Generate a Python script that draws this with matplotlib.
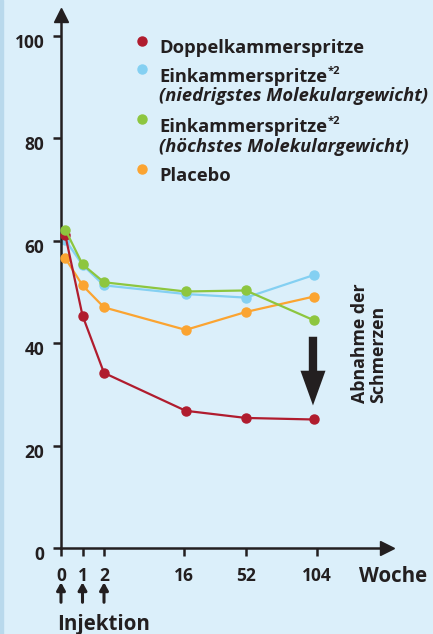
import matplotlib
matplotlib.use("Agg")
import matplotlib.pyplot as plt
from matplotlib.patches import Rectangle
from matplotlib.transforms import ScaledTranslation

plt.rcParams['font.family'] = ['Open Sans', 'DejaVu Sans']

# ---- data ----
weeks = ["0", "1", "2", "16", "52", "104"]
doppel = [61.1, 45.4, 34.2, 26.8, 25.4, 25.1]
ein_low = [60.2, 55.3, 51.3, 49.6, 48.9, 53.3]
ein_high = [62.2, 55.4, 51.9, 50.1, 50.3, 44.5]
placebo = [56.6, 51.3, 47.0, 42.6, 46.1, 49.1]
y_ticks = [0, 20, 40, 60, 80, 100]

# ---- layout ----
tick_pos = [0, 1, 2, 5.7, 8.6, 11.9]
point_pos = [0.2, 1, 2, 5.8, 8.6, 11.75]

BG = '#DBEFFA'
TXT = '#231F20'
RED = '#B01C2E'
BLUE = '#84D0F2'
GREEN = '#8DC63F'
ORANGE = '#FBA431'

W, H = 433, 634
fig = plt.figure(figsize=(W / 100, H / 100), dpi=100, facecolor=BG)
fig.patches.append(Rectangle((0, 0), 2.5 / W, 1, transform=fig.transFigure,
                             color='#B9D9EC', zorder=0))

x0, x1 = 61, 387
y0, y1 = 548, 15
ax = fig.add_axes([x0 / W, 1 - y0 / H, (x1 - x0) / W, (y0 - y1) / H])
ax.set_facecolor('none')
ax.set_xlim(0, (x1 - x0) / 21.5)
ax.set_ylim(0, (y0 - y1) / 5.12)

for s in ['top', 'right']:
    ax.spines[s].set_visible(False)
for s in ['left', 'bottom']:
    ax.spines[s].set_linewidth(1.8)
    ax.spines[s].set_color(TXT)

ax.plot(1, 0, '>', color=TXT, ms=10, transform=ax.get_yaxis_transform(), clip_on=False)
ax.plot(0, 1, '^', color=TXT, ms=10, transform=ax.get_xaxis_transform(), clip_on=False)

TFS = 12.5
ax.set_yticks(y_ticks)
ax.set_yticklabels([str(v) for v in y_ticks], fontsize=TFS, fontweight='bold', color=TXT)
ax.set_xticks(tick_pos)
ax.set_xticklabels(weeks, fontsize=TFS, fontweight='bold', color=TXT)
ax.tick_params(axis='both', length=6, width=1.8, color=TXT)
ax.tick_params(axis='y', pad=6)
ax.tick_params(axis='x', pad=8)
shift = ScaledTranslation(0, -5 / 100, fig.dpi_scale_trans)
for lab in ax.get_yticklabels():
    lab.set_transform(lab.get_transform() + shift)

lw, ms = 1.6, 6.5
for vals, c, z in [(ein_low, BLUE, 2), (placebo, ORANGE, 3), (doppel, RED, 4), (ein_high, GREEN, 5)]:
    ax.plot(point_pos, vals, '-o', color=c, lw=lw, ms=ms, zorder=z, clip_on=False)

# big down arrow
ax.annotate('', xy=(11.72, 27.3), xytext=(11.72, 41.8),
            arrowprops=dict(arrowstyle='simple,tail_width=0.3,head_width=0.9,head_length=1.25',
                            mutation_scale=20, color=TXT, lw=0))

# injection arrows
for p in tick_pos[:3]:
    ax.annotate('', xy=(p, -6.7), xytext=(p, -10.6), annotation_clip=False,
                arrowprops=dict(arrowstyle='-|>,head_width=0.25,head_length=0.45',
                                color=TXT, lw=2.2, shrinkA=0, shrinkB=0))

def ft(x, y, s, **kw):
    return fig.text(x / W, 1 - y / H, s, color=TXT, **kw)

ft(359, 582, 'Woche', fontsize=14.8, fontweight='bold', va='baseline')
ft(57, 630, 'Injektion', fontsize=14.8, fontweight='bold', va='baseline')
ft(369, 403, 'Abnahme der\nSchmerzen', fontsize=12.8, fontweight='bold', rotation=90,
   ha='center', va='bottom', multialignment='left', linespacing=1.05)

# legend
LFS = 13.2
for (cy, c) in [(41, RED), (68.5, BLUE), (118.5, GREEN), (168.5, ORANGE)]:
    fig.lines.append(plt.Line2D([142 / W], [1 - cy / H], marker='o', ms=6.5, color=c,
                                transform=fig.transFigure))
ft(159, 52.7, 'Doppelkammerspritze', fontsize=LFS, fontweight='bold', va='baseline')
t1 = ft(159, 81.7, 'Einkammerspritze', fontsize=LFS, fontweight='bold', va='baseline')
ft(159, 101, '(niedrigstes Molekulargewicht)', fontsize=LFS, fontweight='bold',
   style='italic', va='baseline')
t2 = ft(159, 131.7, 'Einkammerspritze', fontsize=LFS, fontweight='bold', va='baseline')
ft(159, 151.7, '(höchstes Molekulargewicht)', fontsize=LFS, fontweight='bold',
   style='italic', va='baseline')
ft(159, 181, 'Placebo', fontsize=LFS, fontweight='bold', va='baseline')

fig.canvas.draw()
r = fig.canvas.get_renderer()
for t, by in [(t1, 81.7), (t2, 131.7)]:
    bb = t.get_window_extent(r)
    fig.text(bb.x1 / W + 0.5 / W, 1 - (by - 7.5) / H, '*2', color=TXT, fontsize=8,
             fontweight='bold', va='baseline')

fig.savefig('out.png', dpi=100, facecolor=BG)
